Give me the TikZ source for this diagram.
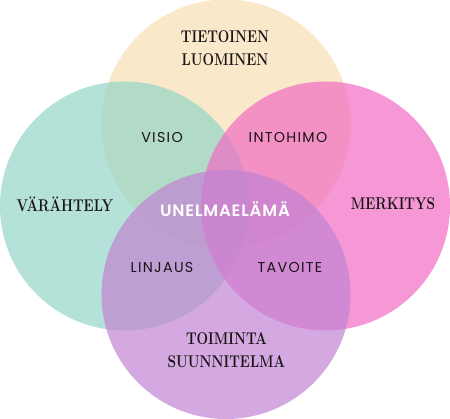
\documentclass[tikz,border=0pt]{standalone}
\usepackage{fontspec}
\setmainfont{Latin Modern Roman}
\newfontfamily\didone[FakeStretch=0.8]{Latin Modern Roman}
\newfontfamily\geo[LetterSpace=9]{Poppins}
\newfontfamily\geob[LetterSpace=5]{Poppins}[UprightFont=* SemiBold]
\definecolor{ctop}{RGB}{246,222,178}
\definecolor{cleft}{RGB}{148,214,199}
\definecolor{cright}{RGB}{242,108,196}
\definecolor{cbottom}{RGB}{194,131,211}
\definecolor{ink}{RGB}{25,20,22}
\begin{document}
\begin{tikzpicture}[x=1pt,y=-1pt,
  blob/.style={fill opacity=0.7,draw=none},
  bigtxt/.style={font=\didone\bfseries\fontsize{17}{20}\selectfont,text=ink,align=center,inner sep=0pt},
  smalltxt/.style={font=\geo\fontsize{14.3}{16}\selectfont,text=ink,inner sep=0pt},
  centertxt/.style={font=\geob\fontsize{16.5}{18}\selectfont,text=white,inner sep=0pt}]
\useasboundingbox (0,0) rectangle (450,419);
\fill[ctop,blob] (226,124) circle[radius=124.5pt];
\fill[cleft,blob] (124.5,206) circle[radius=124.5pt];
\fill[cright,blob] (325.5,206) circle[radius=124.5pt];
\fill[cbottom,blob] (226,294.5) circle[radius=124.5pt];
\node[bigtxt] (tl) at (225,48.5) {TIETOINEN\\[3pt]LUOMINEN};
\node[bigtxt] (va) at (65,204) {VÄRÄHTELY};
\node[bigtxt] (me) at (393,204) {MERKITYS};
\node[bigtxt] (ts) at (226.5,350) {TOIMINTA\\[3pt]SUUNNITELMA};
\node[smalltxt] (vi) at (162,137.5) {VISIO};
\node[smalltxt] (in) at (288,137.5) {INTOHIMO};
\node[smalltxt] (li) at (162,268) {LINJAUS};
\node[smalltxt] (ta) at (290,268) {TAVOITE};
\node[centertxt] (un) at (225,209.5) {UNELMAELÄMÄ};
\end{tikzpicture}
\end{document}
